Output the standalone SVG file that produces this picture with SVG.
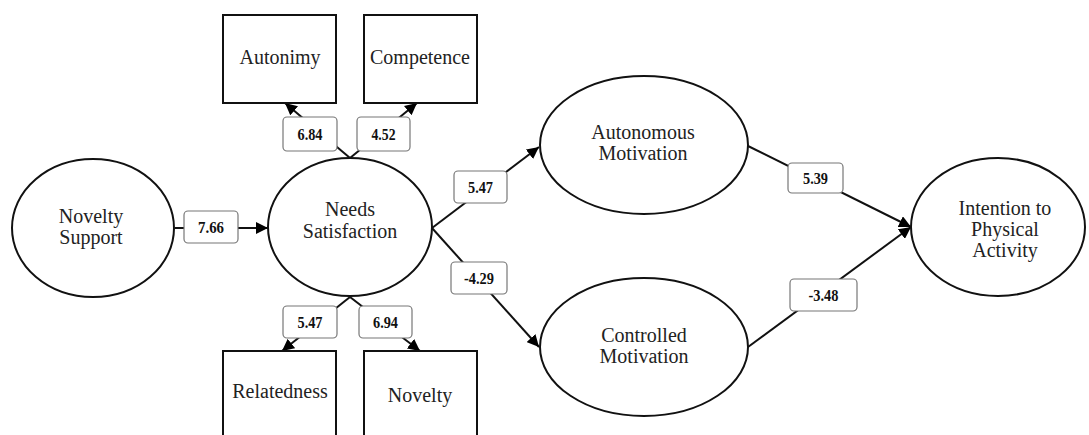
<svg xmlns="http://www.w3.org/2000/svg" width="1089" height="435" viewBox="0 0 1089 435">
<defs>
<style>
.node{fill:#fff;stroke:#111;stroke-width:2}
.nt{font-family:"Liberation Serif","Times New Roman",serif;font-size:20px;fill:#222;text-anchor:middle}
.edge{stroke:#111;stroke-width:2;fill:none}
.lb{fill:#fff;stroke:#777;stroke-width:1.2}
.lt{font-family:"Liberation Serif","Times New Roman",serif;font-size:17px;font-weight:bold;fill:#111;text-anchor:middle}
</style>
<marker id="arr" markerUnits="userSpaceOnUse" markerWidth="12" markerHeight="12" viewBox="0 0 12 12" refX="12" refY="6" orient="auto">
<path d="M0,0 L12,6 L0,12 z" fill="#000"/>
</marker>
</defs>
<rect width="1089" height="435" fill="#fff"/>
<g id="connectors">
<line class="edge" x1="175" y1="228" x2="268" y2="228" marker-end="url(#arr)"/>
<line class="edge" x1="350" y1="158" x2="285" y2="103" marker-end="url(#arr)"/>
<line class="edge" x1="350" y1="158" x2="417" y2="103" marker-end="url(#arr)"/>
<line class="edge" x1="350" y1="297" x2="282" y2="351" marker-end="url(#arr)"/>
<line class="edge" x1="350" y1="297" x2="420" y2="351" marker-end="url(#arr)"/>
<line class="edge" x1="432" y1="228" x2="539" y2="147" marker-end="url(#arr)"/>
<line class="edge" x1="432" y1="228" x2="539" y2="347" marker-end="url(#arr)"/>
<line class="edge" x1="748" y1="146" x2="911" y2="227" marker-end="url(#arr)"/>
<line class="edge" x1="748" y1="347" x2="911" y2="227" marker-end="url(#arr)"/>
<g id="labels">
<rect class="lb" x="184" y="211" width="54" height="32" rx="4"/><text class="lt" x="211" y="233" textLength="26" lengthAdjust="spacingAndGlyphs">7.66</text>
<rect class="lb" x="283" y="117" width="54" height="34" rx="4"/><text class="lt" x="310" y="140" textLength="25" lengthAdjust="spacingAndGlyphs">6.84</text>
<rect class="lb" x="357" y="117" width="53" height="34" rx="4"/><text class="lt" x="383.5" y="140" textLength="24" lengthAdjust="spacingAndGlyphs">4.52</text>
<rect class="lb" x="283" y="306" width="54" height="32" rx="4"/><text class="lt" x="310" y="328" textLength="25" lengthAdjust="spacingAndGlyphs">5.47</text>
<rect class="lb" x="359" y="306" width="53" height="32" rx="4"/><text class="lt" x="385.5" y="328" textLength="25" lengthAdjust="spacingAndGlyphs">6.94</text>
<rect class="lb" x="454" y="171" width="53" height="32" rx="4"/><text class="lt" x="480.5" y="193" textLength="25" lengthAdjust="spacingAndGlyphs">5.47</text>
<rect class="lb" x="451" y="262" width="56" height="32" rx="4"/><text class="lt" x="479" y="284" textLength="30" lengthAdjust="spacingAndGlyphs">-4.29</text>
<rect class="lb" x="788" y="163" width="55" height="30" rx="4"/><text class="lt" x="815.5" y="184" textLength="25" lengthAdjust="spacingAndGlyphs">5.39</text>
<rect class="lb" x="790" y="279" width="67" height="32" rx="4"/><text class="lt" x="823.5" y="301" textLength="30" lengthAdjust="spacingAndGlyphs">-3.48</text>
</g>
</g>
<g id="novelty-support"><ellipse class="node" cx="93" cy="228" rx="81" ry="69"/><text class="nt" x="91" y="223">Novelty</text><text class="nt" x="91" y="244">Support</text></g>
<g id="needs-satisfaction"><ellipse class="node" cx="350" cy="227" rx="82" ry="69"/><text class="nt" x="350" y="216">Needs</text><text class="nt" x="350" y="238">Satisfaction</text></g>
<g id="autonimy"><rect class="node" x="223" y="15" width="113" height="88"/><text class="nt" x="280" y="64">Autonimy</text></g>
<g id="competence"><rect class="node" x="364" y="15" width="113" height="88"/><text class="nt" x="420" y="64">Competence</text></g>
<g id="relatedness"><rect class="node" x="223" y="351" width="113" height="100"/><text class="nt" x="280" y="398">Relatedness</text></g>
<g id="novelty"><rect class="node" x="364" y="351" width="113" height="100"/><text class="nt" x="420" y="402">Novelty</text></g>
<g id="autonomous-motivation"><ellipse class="node" cx="644" cy="145" rx="104" ry="69"/><text class="nt" x="643" y="139">Autonomous</text><text class="nt" x="643" y="160">Motivation</text></g>
<g id="controlled-motivation"><ellipse class="node" cx="644" cy="347" rx="104" ry="69"/><text class="nt" x="644" y="342">Controlled</text><text class="nt" x="644" y="363">Motivation</text></g>
<g id="intention"><ellipse class="node" cx="998" cy="227" rx="87" ry="69"/><text class="nt" x="1005" y="215">Intention to</text><text class="nt" x="1005" y="236">Physical</text><text class="nt" x="1005" y="257">Activity</text></g>
</svg>
